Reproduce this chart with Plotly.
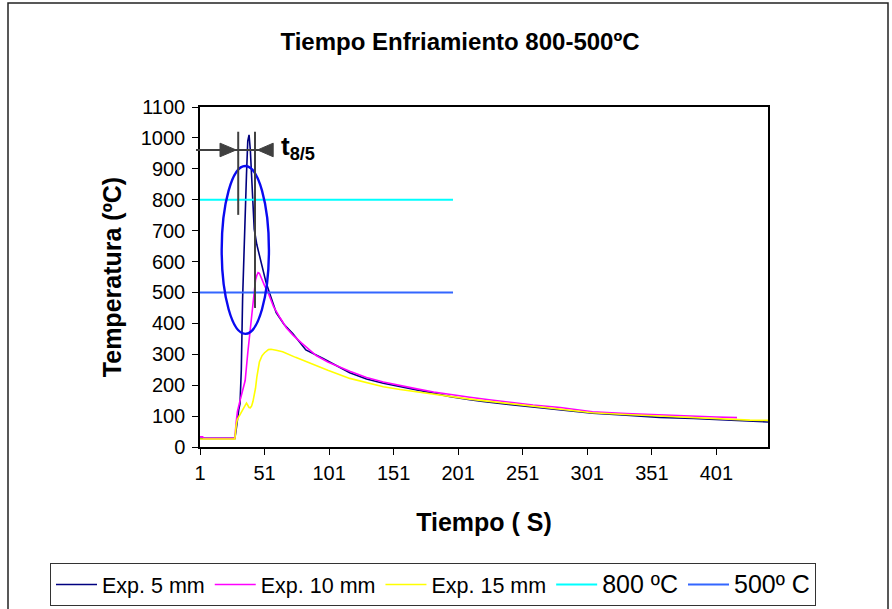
import plotly.graph_objects as go

# ---- data ----
t_5mm = [1, 28, 29, 30, 31, 32, 33, 34, 35, 36, 37, 38, 39, 40, 41, 42, 43, 45, 47, 49,
         52, 55, 60, 66, 73, 83, 96, 117, 130, 143, 156, 169, 182, 195, 210, 220, 240,
         259, 279, 305, 331, 357, 383, 401, 427, 441]
temp_5mm = [28, 28, 55, 95, 120, 140, 250, 480, 640, 760, 880, 990, 1010, 960, 860, 780,
            705, 655, 620, 590, 535, 497, 435, 397, 366, 314, 287, 240, 220, 206, 195,
            184, 173, 163, 153, 147, 138, 130, 120, 109, 103, 96, 92, 88, 82, 81]

t_10mm = [1, 3, 4, 28, 29, 30, 32, 34, 36, 38, 40, 42, 43, 44, 45, 46, 47, 49, 51, 54,
          58, 63, 68, 73, 80, 91, 100, 117, 130, 143, 156, 169, 182, 195, 210, 225, 240,
          259, 280, 305, 331, 357, 383, 401, 417]
temp_10mm = [33, 33, 28, 28, 80, 115, 150, 180, 215, 304, 390, 454, 510, 540, 555, 564,
             562, 540, 522, 497, 454, 418, 385, 362, 335, 296, 275, 245, 225, 210, 198,
             188, 178, 169, 161, 153, 145, 136, 128, 114, 108, 103, 100, 97, 95]

t_15mm = [1, 28, 29, 30, 32, 34, 36, 37, 38, 39, 40, 41, 42, 43, 44, 45, 46, 47, 49, 51,
          54, 56, 60, 65, 75, 91, 100, 117, 130, 143, 156, 169, 182, 195, 210, 220, 240,
          259, 280, 305, 331, 357, 383, 401, 427, 441]
temp_15mm = [26, 26, 70, 90, 105, 120, 138, 142, 135, 128, 127, 133, 147, 165, 190, 225,
             255, 275, 295, 305, 315, 316, 313, 308, 290, 262, 248, 222, 208, 195, 186,
             178, 170, 163, 155, 150, 141, 132, 122, 111, 105, 100, 95, 91, 87, 86]

ref_t = [1, 197]
ref_800 = [800, 800]
ref_500 = [500, 500]

x_ticks = [1, 51, 101, 151, 201, 251, 301, 351, 401]
y_ticks = [0, 100, 200, 300, 400, 500, 600, 700, 800, 900, 1000, 1100]

# ---- figure ----
W, H = 892, 609
L, R, T, B = 200, 124, 107, 162
FONT = "Liberation Sans, Arial, sans-serif"

def px_x(p):  # pixel -> paper x
    return (p - L) / (W - L - R)

def px_y(p):  # pixel -> paper y
    return (H - B - p) / (H - T - B)

fig = go.Figure()
fig.add_trace(go.Scatter(x=t_5mm, y=temp_5mm, mode="lines", name="Exp. 5 mm",
                         line=dict(color="#000080", width=1.6)))
fig.add_trace(go.Scatter(x=t_10mm, y=temp_10mm, mode="lines", name="Exp. 10 mm",
                         line=dict(color="#FF00FF", width=1.6)))
fig.add_trace(go.Scatter(x=t_15mm, y=temp_15mm, mode="lines", name="Exp. 15 mm",
                         line=dict(color="#FFFF00", width=1.6)))
fig.add_trace(go.Scatter(x=ref_t, y=ref_800, mode="lines",
                         name="<span style='font-size:25px'>800 ºC</span>",
                         line=dict(color="#00FFFF", width=2)))
fig.add_trace(go.Scatter(x=ref_t, y=ref_500, mode="lines",
                         name="<span style='font-size:25px'>500º C</span>",
                         line=dict(color="#3366FF", width=2)))

grey = "#404040"
shapes = [
    # outer chart frame
    dict(type="rect", xref="paper", yref="paper", x0=px_x(8), x1=px_x(888),
         y0=px_y(640), y1=px_y(3), line=dict(color="#222222", width=1.5),
         layer="below"),
    # ellipse around the 800-500 zone
    dict(type="circle", xref="x", yref="y", x0=17.8, x1=54.4, y0=366, y1=909,
         line=dict(color="#0A0AF0", width=2.4)),
    # vertical markers
    dict(type="line", xref="x", yref="y", x0=30.6, x1=30.6, y0=751, y1=1020,
         line=dict(color=grey, width=2)),
    dict(type="line", xref="x", yref="y", x0=43.6, x1=43.6, y0=450, y1=1020,
         line=dict(color=grey, width=2)),
    # horizontal dimension line
    dict(type="line", xref="paper", yref="y", x0=px_x(196), x1=px_x(273), y0=961, y1=961,
         line=dict(color=grey, width=2)),
    # arrowheads
    dict(type="path", xref="x", yref="y", path="M 16.5,983 L 29.0,961 L 16.5,939 Z",
         fillcolor=grey, line=dict(color=grey, width=1)),
    dict(type="path", xref="x", yref="y", path="M 57.7,983 L 45.6,961 L 57.7,939 Z",
         fillcolor=grey, line=dict(color=grey, width=1)),
]

fig.update_layout(
    width=W, height=H,
    margin=dict(l=L, r=R, t=T, b=B, pad=0, autoexpand=False),
    paper_bgcolor="white", plot_bgcolor="white",
    font=dict(family=FONT, color="black", size=20),
    title=dict(text="<b>Tiempo Enfriamiento 800-500ºC</b>", font=dict(size=24),
               xref="paper", x=px_x(460), xanchor="center",
               yref="container", y=1 - 42 / H, yanchor="middle"),
    xaxis=dict(range=[1, 441], tickmode="array", tickvals=x_ticks,
               ticks="outside", ticklen=6, tickwidth=1.2, tickcolor="black",
               showline=True, linecolor="black", linewidth=1.5, mirror=True,
               showgrid=False, zeroline=False, tickfont=dict(size=20),
               ticklabelstandoff=1,
               title=dict(text="<b>Tiempo ( S)</b>", font=dict(size=25), standoff=31)),
    yaxis=dict(range=[0, 1100], tickmode="array", tickvals=y_ticks,
               ticks="outside", ticklen=6, tickwidth=1.2, tickcolor="black",
               showline=True, linecolor="black", linewidth=1.5, mirror=True,
               showgrid=False, zeroline=False, tickfont=dict(size=20),
               ticklabelstandoff=3,
               title=dict(text="<b>Temperatura (ºC)</b>", font=dict(size=25), standoff=12)),
    legend=dict(orientation="h", x=px_x(50), y=px_y(563), xanchor="left", yanchor="top",
                bordercolor="#333333", borderwidth=1, bgcolor="white",
                font=dict(size=21.5), itemwidth=41, traceorder="normal"),
    shapes=shapes,
    annotations=[
        dict(xref="x", yref="y", x=62.2, y=968, xanchor="left", yanchor="middle",
             text="<b>t<sub>8/5</sub></b>", showarrow=False,
             font=dict(size=26, color="black")),
    ],
    showlegend=True,
)

fig.write_html("out.html", config={"displayModeBar": False},
               post_script="document.body.style.margin='0';")
